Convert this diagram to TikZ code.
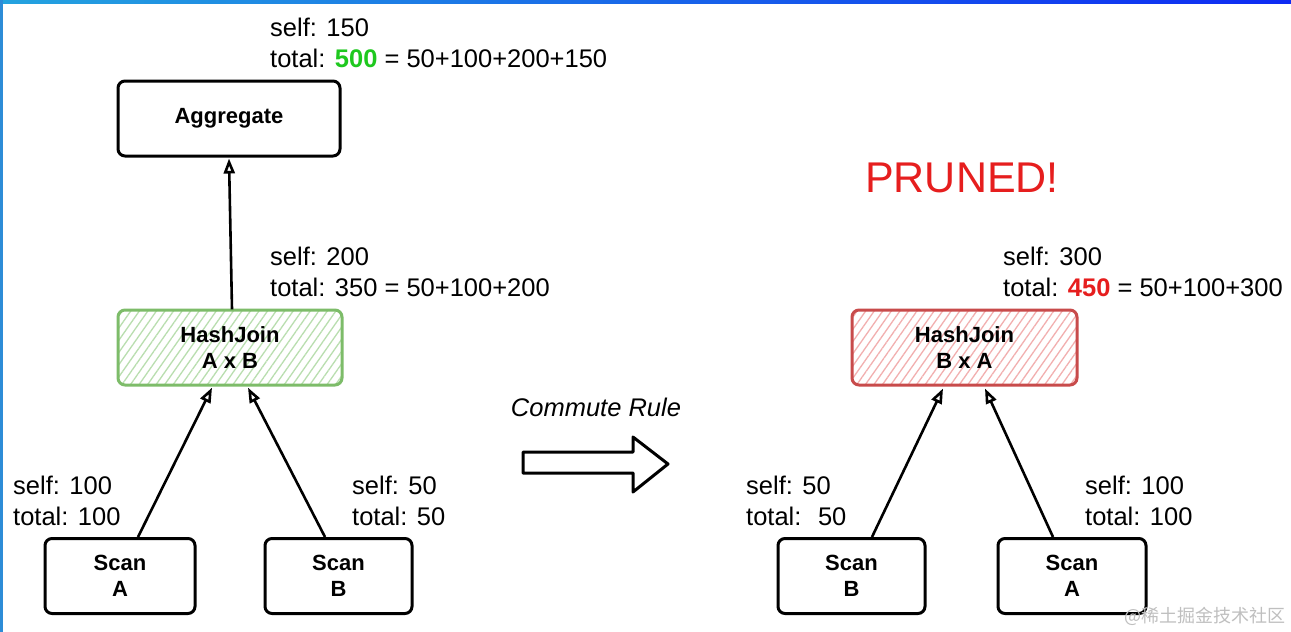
\documentclass[tikz,border=0pt]{standalone}
\usepackage{fontspec}
\setmainfont{Liberation Sans}
\newfontfamily\cjk{Noto Sans CJK SC}
\usepackage{tikz}
\usetikzlibrary{arrows.meta,patterns.meta}
\definecolor{okgreen}{RGB}{125,188,105}
\definecolor{okhatch}{RGB}{185,222,175}
\definecolor{badred}{RGB}{200,75,75}
\definecolor{badhatch}{RGB}{242,175,175}
\definecolor{winner}{RGB}{30,200,30}
\definecolor{loser}{RGB}{230,30,30}
\definecolor{frameblue}{RGB}{45,140,215}

\begin{document}
\begin{tikzpicture}[x=1pt,y=-1pt,
	>={Triangle[open,length=15pt,width=11pt]},
	plan/.style={draw,line width=3pt,rounded corners=7pt,align=center,inner sep=0pt,
		minimum height=75pt,font=\fontsize{22}{26}\selectfont\bfseries},
	hashok/.style={plan,draw=okgreen,pattern={Lines[angle=55,distance=7pt,line width=1.3pt]},pattern color=okhatch},
	hashbad/.style={plan,draw=badred,pattern={Lines[angle=55,distance=7pt,line width=1.3pt]},pattern color=badhatch},
	cost/.style={align=left,anchor=north west,inner sep=0pt,font=\fontsize{25.5}{31}\selectfont},
	link/.style={->,line width=2.6pt}]
	\useasboundingbox (0,0) rectangle (1291,632);
	\fill[white] (0,0) rectangle (1291,632);
	% frame of the screenshot
	\fill[left color=frameblue!80!cyan,right color=blue!70!frameblue] (0,0) rectangle (1291,3);
	\fill[frameblue] (0,0) rectangle (3,632);

	% plan before the rule
	\node [plan,minimum width=222pt]		(agg)	at (229,118.5)	{Aggregate};
	\node [hashok,minimum width=224pt]		(hjAB)	at (230,347.5)	{HashJoin\\A x B};
	\node [plan,minimum width=150pt]		(scA)	at (120,576)	{Scan\\A};
	\node [plan,minimum width=147pt]		(scB)	at (338.5,576)	{Scan\\B};

	\node [cost]	(cAgg)	at (270,18)		{self: 150\\total: \textbf{\textcolor{winner}{500}} = 50+100+200+150};
	\node [cost]	(cAB)	at (270,247)	{self: 200\\total: 350 = 50+100+200};
	\node [cost]	(cA)	at (13,476)		{self: 100\\total: 100};
	\node [cost]	(cB)	at (352,476)	{self: 50\\total: 50};

	\path [link]
		([xshift=2pt]hjAB.north)	edge	([yshift=-1pt]agg.south)
		([xshift=18pt]scA.north)	edge	([xshift=-18pt,yshift=-2pt]hjAB.south)
		([xshift=-13.5pt]scB.north)	edge	([xshift=18pt,yshift=-2pt]hjAB.south)
	;

	% the rule
	\node [font=\fontsize{25.5}{31}\selectfont\itshape]	(rule)	at (596,407)	{Commute Rule};
	\draw [line width=3pt,line join=round]
		(523,452) -- (633,452) -- (633,437) -- (668,464) -- (633,492) -- (633,473) -- (523,473) -- cycle;

	% plan after the rule
	\node [text=loser,font=\fontsize{43}{43}\selectfont]	(pruned)	at (962,178)	{PRUNED!};
	\node [hashbad,minimum width=225pt]		(hjBA)	at (964.5,347.5)	{HashJoin\\B x A};
	\node [plan,minimum width=147pt]		(scB2)	at (851.5,576)	{Scan\\B};
	\node [plan,minimum width=148pt]		(scA2)	at (1072,576)	{Scan\\A};

	\node [cost]	(cBA)	at (1003,247)	{self: 300\\total: \textbf{\textcolor{loser}{450}} = 50+100+300};
	\node [cost]	(cB2)	at (746,476)	{self: 50\\total: \ 50};
	\node [cost]	(cA2)	at (1085,476)	{self: 100\\total: 100};

	\path [link]
		([xshift=20.5pt]scB2.north)	edge	([xshift=-21.5pt,yshift=-2pt]hjBA.south)
		([xshift=-19pt]scA2.north)	edge	([xshift=20.5pt,yshift=-2pt]hjBA.south)
	;

	\node [anchor=south east,inner sep=0pt,text=gray!50,font=\cjk\fontsize{18}{18}\selectfont]	(mark)	at (1286,626)	{@稀土掘金技术社区};
\end{tikzpicture}
\end{document}
